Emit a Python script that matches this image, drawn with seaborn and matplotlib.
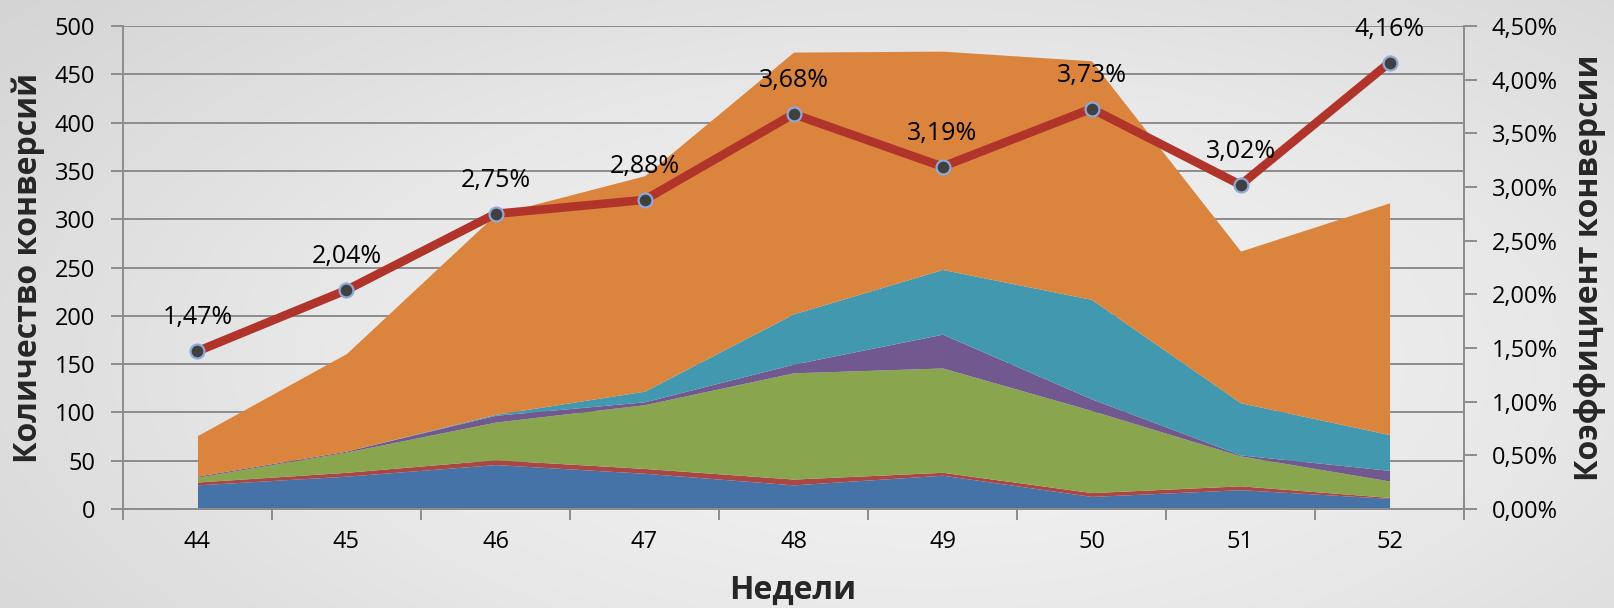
import matplotlib
matplotlib.use('Agg')

import numpy as np
import matplotlib.pyplot as plt
import seaborn as sns
from matplotlib.colors import LinearSegmentedColormap
from matplotlib.ticker import FuncFormatter, FixedLocator


# weeks and the stacked conversion counts (bottom layer first)
weeks = [44, 45, 46, 47, 48, 49, 50, 51, 52]
blue_vals = [25, 34, 46, 37, 25, 35, 13, 20, 11]
red_vals = [3, 4, 5, 5, 6, 3, 4, 4, 1]
green_vals = [5, 21, 39, 66, 110, 108, 85, 31, 17]
purple_vals = [1, 1, 7, 3, 9, 35, 12, 1, 11]
teal_vals = [0, 0, 1, 11, 52, 67, 103, 54, 37]
orange_vals = [42, 101, 207, 223, 271, 226, 247, 157, 240]

# conversion rate, %
rate = [1.47, 2.04, 2.75, 2.88, 3.68, 3.19, 3.73, 3.02, 4.16]

area_colors = ['#4572A7', '#AA4643', '#89A54E', '#71588F', '#4198AF', '#DB843D']
grid_col = '#8c8c8c'

sns.set_theme(style='white')
plt.rcParams['font.family'] = ['Open Sans', 'DejaVu Sans']

fig = plt.figure(figsize=(16.14, 6.08), dpi=100)

# soft grey background gradient
bg = fig.add_axes([0, 0, 1, 1], zorder=-10)
yy, xx = np.mgrid[-1:1:300j, -1:1:800j]
dist = np.sqrt(((xx - 0.15) * 1.0) ** 2 + ((yy - 0.2) * 0.8) ** 2)
cmap = LinearSegmentedColormap.from_list('bg', ['#f6f6f6', '#e8e8e8', '#d4d4d4'])
bg.imshow(dist, cmap=cmap, aspect='auto', extent=[0, 1, 0, 1], origin='upper')
bg.axis('off')

ax = fig.add_axes([0.0762, 0.1628, 0.8309, 0.7944])
ax.patch.set_alpha(0)
ax.stackplot(weeks, blue_vals, red_vals, green_vals, purple_vals, teal_vals, orange_vals,
             colors=area_colors, linewidth=0, zorder=2)

ax.set_xlim(43.5, 52.5)
ax.set_ylim(0, 500)
ax.set_yticks(range(0, 501, 50))
ax.yaxis.grid(True, color=grid_col, linewidth=1.4)
ax.xaxis.grid(False)
ax.set_axisbelow(True)

ax.set_xticks(weeks)
ax.set_xticklabels([str(w) for w in weeks])
ax.xaxis.set_minor_locator(FixedLocator(np.arange(43.5, 53, 1.0)))
ax.tick_params(axis='x', which='major', length=0, pad=15, labelsize=17, colors='black')
ax.tick_params(axis='x', which='minor', bottom=True, length=8, width=1.4, color=grid_col)
ax.tick_params(axis='y', left=True, length=9, width=1.4, color=grid_col, pad=11,
               labelsize=17, labelcolor='black')

for side in ['top', 'right']:
    ax.spines[side].set_visible(False)
for side in ['left', 'bottom']:
    ax.spines[side].set_color(grid_col)
    ax.spines[side].set_linewidth(1.4)

# conversion rate line on secondary axis
ax2 = ax.twinx()
sns.lineplot(x=weeks, y=rate, ax=ax2, color='#B0342A', linewidth=6.2,
             marker='o', markersize=10, markerfacecolor='#404040',
             markeredgecolor='#8EA9D8', markeredgewidth=1.6, zorder=5)
ax2.set_ylim(0, 4.5)
ax2.set_yticks(np.arange(0, 4.51, 0.5))
ax2.yaxis.set_major_formatter(FuncFormatter(lambda v, p: ('%.2f%%' % v).replace('.', ',')))
ax2.grid(False)
ax2.set_ylabel('')
ax2.tick_params(axis='y', right=True, length=9, width=1.4, color=grid_col, pad=11,
                labelsize=17, labelcolor='black')
for side in ['top', 'left', 'bottom']:
    ax2.spines[side].set_visible(False)
ax2.spines['right'].set_color(grid_col)
ax2.spines['right'].set_linewidth(1.4)

for w, r in zip(weeks, rate):
    ax2.annotate(('%.2f%%' % r).replace('.', ','), (w, r), xytext=(0, 24),
                 textcoords='offset points', ha='center', va='center',
                 fontsize=18, color='black', zorder=6)

# axis titles
fig.text(28 / 1614, 0.56, 'Количество конверсий', rotation=90, ha='center', va='center',
         fontsize=23, fontweight='bold')
fig.text(1590 / 1614, 0.56, 'Коэффициент конверсии', rotation=90, ha='center', va='center',
         fontsize=23, fontweight='bold')
fig.text(793 / 1614, 1 - 590 / 608, 'Недели', ha='center', va='center',
         fontsize=23, fontweight='bold')

fig.savefig('out.png', dpi=100)
